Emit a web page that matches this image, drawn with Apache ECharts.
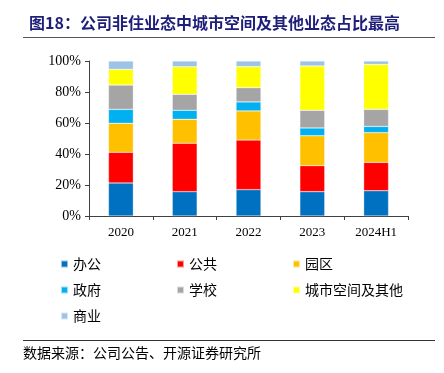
<!DOCTYPE html>
<html><head><meta charset="utf-8">
<script src="https://cdn.jsdelivr.net/npm/echarts@6/dist/echarts.min.js"></script>
<style>html,body{margin:0;padding:0;background:#fff;}#c{width:444px;height:373px;}</style>
</head><body><div id="c"></div>
<script>
const categories = ['2020','2021','2022','2023','2024H1'];
const office  = [21.3, 15.7, 17.0, 15.7, 16.3];
const publicS = [19.8, 31.2, 32.0, 16.8, 18.3];
const park    = [18.7, 15.5, 18.8, 19.3, 19.2];
const gov     = [9.0, 5.8, 5.8, 5.0, 4.0];
const school  = [15.7, 10.3, 9.2, 11.4, 11.0];
const city    = [10.1, 17.8, 13.6, 28.6, 29.0];
const commerce= [5.4, 3.7, 3.6, 3.2, 2.2];
const yTicks = [0, 20, 40, 60, 80, 100];

const names = ['办公','公共','园区','政府','学校','城市空间及其他','商业'];
const colors = ['#0070C0','#FF0000','#FFC000','#00B0F0','#A5A5A5','#FFFF00','#9DC3E6'];
const datas = [office, publicS, park, gov, school, city, commerce];
const serif = '"Liberation Serif","Times New Roman",serif';
const cjk = '"Noto Sans CJK SC",sans-serif';

const legendPos = [[60,257],[176,257],[292,257],[60,283],[176,283],[292,283],[60,309]];
const legends = names.map((n,i)=>({
  data:[n], left:legendPos[i][0], top:legendPos[i][1], itemWidth:7, itemHeight:7,
  icon:'rect', itemGap:4, padding:0,
  textStyle:{fontFamily:cjk, fontSize:14, color:'#000', padding:[0,0,0,0]}
}));

const chart = echarts.init(document.getElementById('c'));
chart.setOption({
  animation:false,
  title:{text:'图18：公司非住业态中城市空间及其他业态占比最高', left:24, top:10,
    textStyle:{fontFamily:cjk, fontSize:16, fontWeight:'bold', color:'#1F1F7A'}},
  graphic:[
    {type:'line', shape:{x1:23,y1:37.5,x2:435,y2:37.5}, style:{stroke:'#555',lineWidth:1}},
    {type:'line', shape:{x1:23,y1:340.5,x2:435,y2:340.5}, style:{stroke:'#333',lineWidth:1}},
    {type:'text', left:23, top:346, style:{text:'数据来源：公司公告、开源证券研究所', font:'14px "Noto Sans CJK SC"', fill:'#000'}}
  ],
  legend: legends,
  grid:{left:89, right:36, top:61, bottom:157},
  xAxis:{type:'category', data:categories,
    axisLine:{lineStyle:{color:'#404040'}},
    axisTick:{show:true, alignWithLabel:false, length:4, lineStyle:{color:'#404040'}},
    axisLabel:{fontFamily:serif, fontSize:13, color:'#000', margin:10}},
  yAxis:{type:'value', min:yTicks[0], max:yTicks[yTicks.length-1], interval:20,
    axisLine:{show:true, lineStyle:{color:'#404040'}},
    axisTick:{show:true, length:4, lineStyle:{color:'#404040'}},
    splitLine:{show:false},
    axisLabel:{fontFamily:serif, fontSize:14, color:'#000', formatter:'{value}%', margin:8}},
  series: names.map((n,i)=>({
    name:n, type:'bar', stack:'a', data:datas[i], barWidth:'39%',
    itemStyle:{color:colors[i], borderColor:'rgba(255,255,255,0.6)', borderWidth:0.5}
  }))
});
</script></body></html>
